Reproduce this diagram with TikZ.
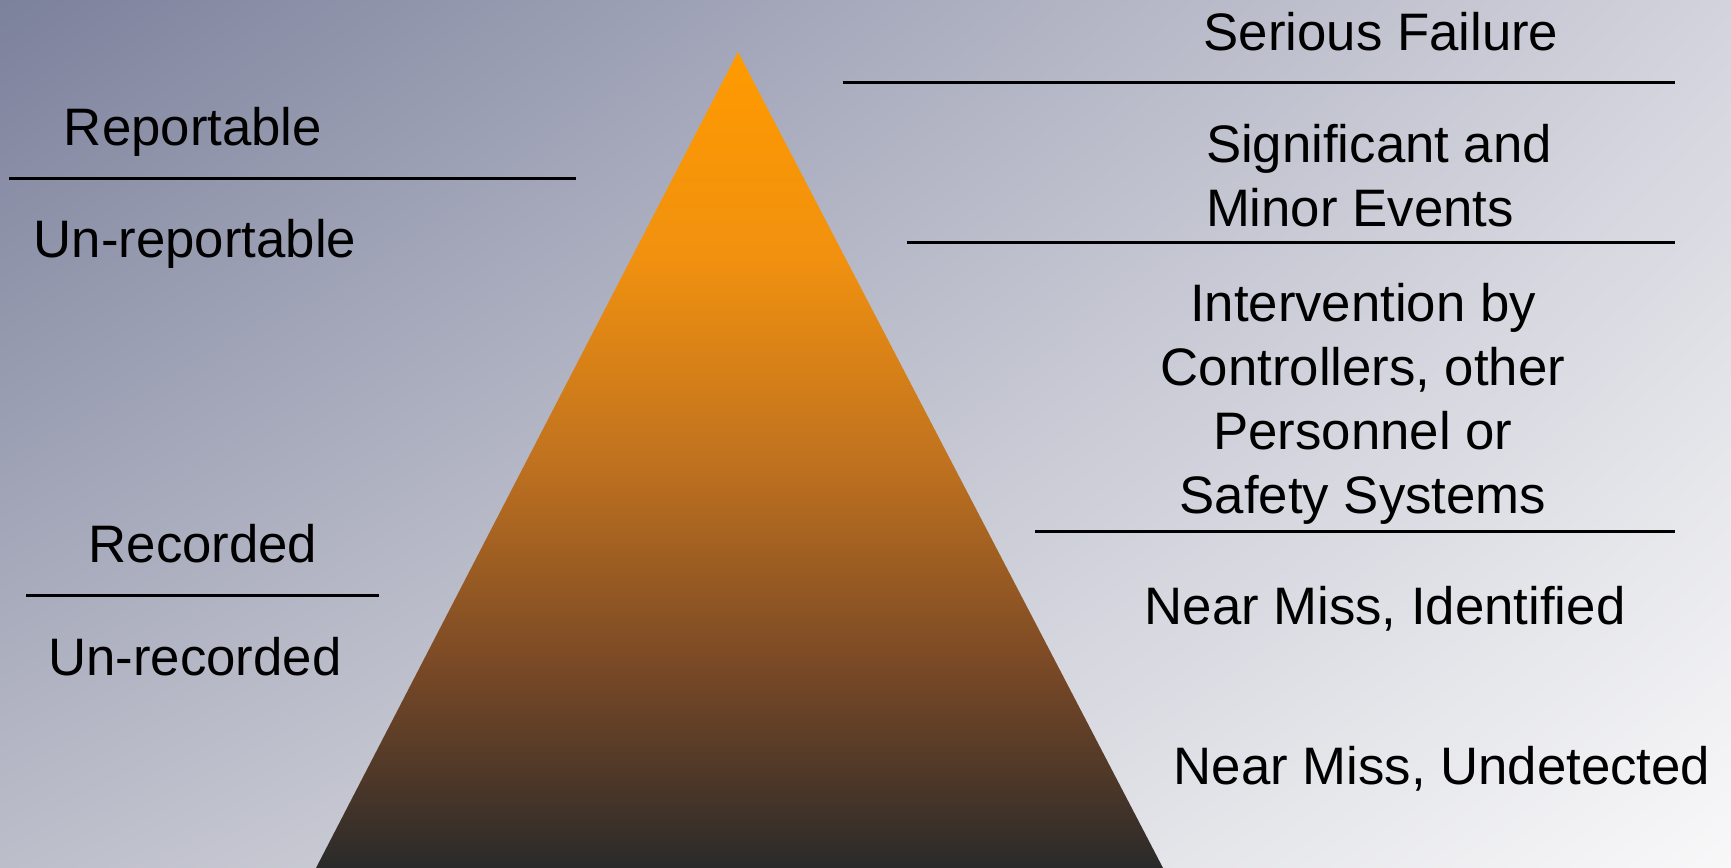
\documentclass[tikz,border=0pt]{standalone}
\usepackage{fontspec}
\setmainfont{Liberation Sans}
\usetikzlibrary{positioning,shadings}
\definecolor{bgdark}{HTML}{7C819C}
\definecolor{bgmidA}{HTML}{D2D3DC}
\definecolor{bgmidB}{HTML}{BCBECA}
\definecolor{bglight}{HTML}{F8F8F9}
\definecolor{pyrtop}{HTML}{FF9A00}
\definecolor{pyrhigh}{HTML}{F1910F}
\definecolor{pyrmid}{HTML}{C0721F}
\definecolor{pyrlow}{HTML}{7A4926}
\definecolor{pyrbot}{HTML}{2A2A2A}
\pgfdeclareverticalshading{pyramid}{100bp}{color(0bp)=(pyrbot); color(25bp)=(pyrbot); color(37.5bp)=(pyrlow); color(50bp)=(pyrmid); color(62.5bp)=(pyrhigh); color(75bp)=(pyrtop); color(100bp)=(pyrtop)}

\begin{document}
\begin{tikzpicture}[x=0.01cm, y=-0.01cm, every node/.style={font=\fontsize{15}{18.2}\selectfont, inner sep=0pt}, lbl/.style={align=center, anchor=center}, sep/.style={draw=black, line width=0.85pt}]
\useasboundingbox (0,0) rectangle (1731,868);
\shade[upper left=bgdark, upper right=bgmidA, lower left=bgmidB, lower right=bglight] (0,0) rectangle (1731,868);
% pyramid
\coordinate (apex) at (738,52);
\coordinate (baseL) at (316,868);
\coordinate (baseR) at (1163,868);
\shade[shading=pyramid] (apex) -- (baseR) -- (baseL) -- cycle;
% right side levels
\node[lbl] (serious) at (1381,32) {Serious Failure};
\node[lbl, align=left] (signif) at (1379,176) {Significant and\\Minor Events};
\node[lbl] (interv) at (1363,404) {Intervention by\\Controllers, other\\Personnel or\\Safety Systems};
\node[lbl] (nmident) at (1385,609) {Near Miss, Identified};
\node[lbl] (nmundet) at (1442,769) {Near Miss, Undetected};
\draw[sep] (843,83) -- (1675,83);
\draw[sep] (907,243) -- (1675,243);
\draw[sep] (1035,532) -- (1675,532);
% left side
\node[lbl] (report) at (193,132) {Reportable};
\node[lbl] (unreport) at (195,244) {Un-reportable};
\node[lbl] (recorded) at (203,544) {Recorded};
\node[lbl] (unrecorded) at (195,657) {Un-recorded};
\draw[sep] (9,179) -- (576,179);
\draw[sep] (26,596) -- (379,596);
\end{tikzpicture}
\end{document}
